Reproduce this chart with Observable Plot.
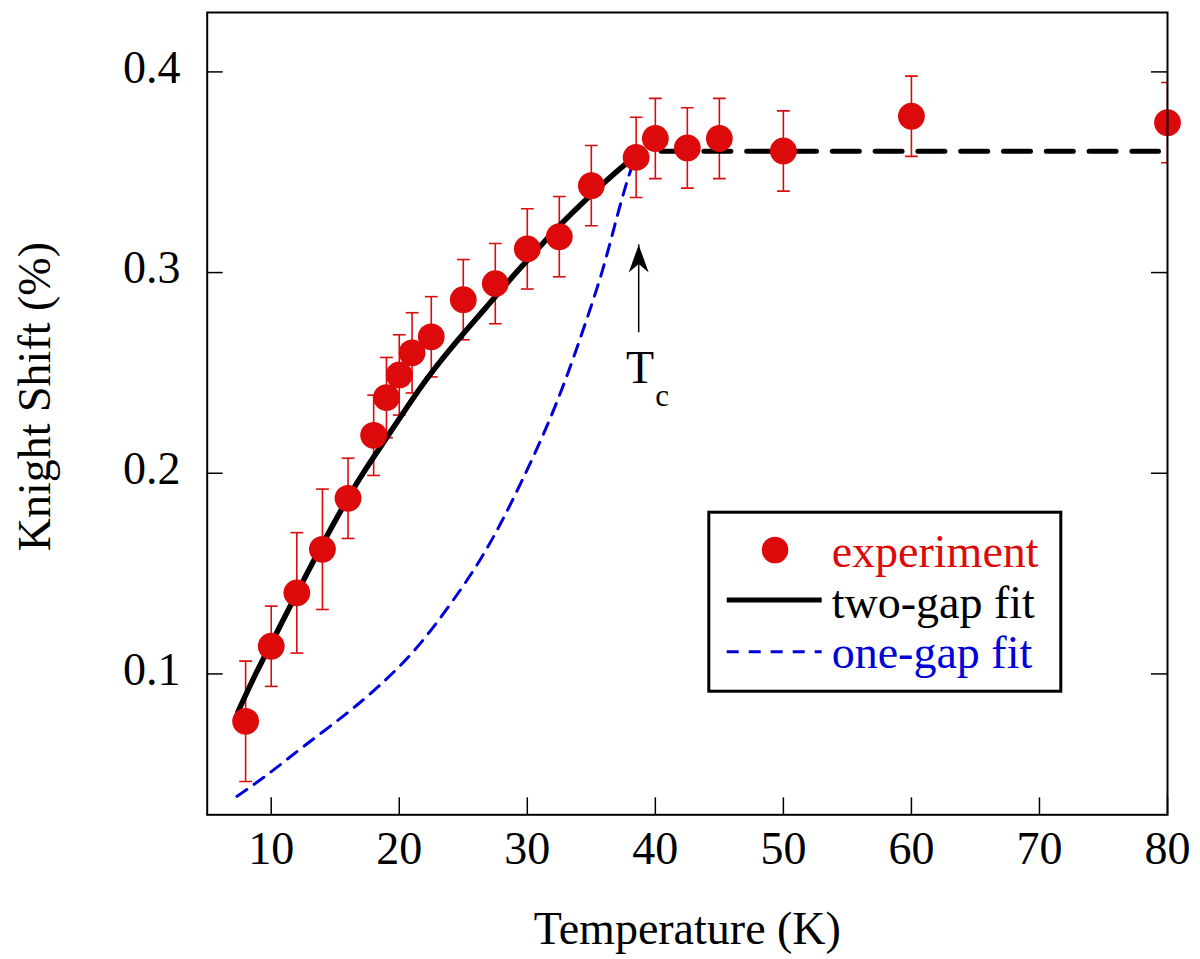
<!DOCTYPE html>
<html>
<head>
<meta charset="utf-8">
<script src="https://cdn.jsdelivr.net/npm/d3@7"></script>
<script src="https://cdn.jsdelivr.net/npm/@observablehq/plot@0.6"></script>
<style>
  html, body { margin: 0; padding: 0; background: #fff; }
  #wrap { position: relative; width: 1200px; height: 959px; }
  #legend { position: absolute; left: 0; top: 0; pointer-events: none; }
</style>
</head>
<body>
<div id="wrap"></div>
<script>
// ---------------- data ----------------
const xTicks = [10, 20, 30, 40, 50, 60, 70, 80];
const yTicks = [0.1, 0.2, 0.3, 0.4];
const xTitle = "Temperature (K)";
const yTitle = "Knight Shift (%)";

// experiment
const expT   = [8, 10, 12, 14, 16, 18, 19, 20, 21, 22.5, 25, 27.5, 30, 32.5, 35, 38.5, 40, 42.5, 45, 50, 60, 80];
const expKS  = [0.0764, 0.1138, 0.1404, 0.1621, 0.1875, 0.2189, 0.2377, 0.249, 0.260, 0.268, 0.2865, 0.2945, 0.3118, 0.3179, 0.3433, 0.3574, 0.3668, 0.3621, 0.3668, 0.3606, 0.3779, 0.3747];
const expErr = [0.03, 0.02, 0.03, 0.03, 0.02, 0.02, 0.02, 0.02, 0.02, 0.02, 0.02, 0.02, 0.02, 0.02, 0.02, 0.02, 0.02, 0.02, 0.02, 0.02, 0.02, 0.02];

// two-gap fit (superconducting state)
const twoGapT  = [7.4, 8.75, 10.4, 13.0, 15.9, 17.3, 19.0, 20.6, 22.4, 24.5, 26.8, 29.1, 30.0, 32.4, 34.9, 37.7, 38.5];
const twoGapKS = [0.081, 0.100, 0.120, 0.153, 0.187, 0.2015, 0.2175, 0.233, 0.2495, 0.266, 0.2827, 0.300, 0.306, 0.323, 0.3385, 0.3545, 0.358];

// normal state (dashed)
const normalT  = [40.45, 79.3];
const normalKS = [0.3605, 0.3605];

// one-gap fit
const oneGapT  = [7.33, 9.67, 12.4, 15.9, 18.5, 21.07, 23.66, 26.0, 27.8, 29.6, 31.4, 33.0, 34.8, 36.0, 37.0, 37.8, 38.4];
const oneGapKS = [0.039, 0.0494, 0.0634, 0.080, 0.0942, 0.110, 0.1315, 0.153, 0.173, 0.1963, 0.221, 0.2462, 0.2794, 0.303, 0.328, 0.346, 0.357];

// Tc annotation
const tcArrow = [{T: 38.7, from: 0.270, to: 0.3138}];
const tcMain  = [{T: 38.8, ks: 0.2525, label: "T"}];
const tcSub   = [{T: 40.0, ks: 0.2383, label: "c"}];

// legend
const legendLabels = ["experiment", "two-gap fit", "one-gap fit"];

// ---------------- build ----------------
const RED = "#dc0a0a", BLUE = "#0000d8";
const FONT = "'Liberation Serif', 'Times New Roman', Times, serif";
const W = 1200, H = 959;
const mL = 206.7, mR = 33, mT = 12, mB = 144.7;
const plotW = W - mL - mR, plotH = H - mT - mB;

const exp = expT.map((T, i) => ({T, ks: expKS[i], err: expErr[i]}));
const twoGap = twoGapT.map((T, i) => ({T, ks: twoGapKS[i]}));
const normal = normalT.map((T, i) => ({T, ks: normalKS[i]}));
const oneGap = oneGapT.map((T, i) => ({T, ks: oneGapKS[i]}));

const capSymbol = {draw(ctx) { ctx.moveTo(-6.4, 0); ctx.lineTo(6.4, 0); }};
const arrowHead = {draw(ctx) {
  ctx.moveTo(0, 0); ctx.lineTo(-10, 27.5); ctx.lineTo(0, 19); ctx.lineTo(10, 27.5); ctx.closePath();
}};

const chart = Plot.plot({
  width: W, height: H,
  marginLeft: mL, marginRight: mR, marginTop: mT, marginBottom: mB,
  x: {domain: [5, 80]},
  y: {domain: [0.0298, 0.4296]},
  style: {fontFamily: FONT, fontSize: "46px", background: "#fff", color: "#000"},
  marks: [
    // axes labels (no outward ticks)
    Plot.axisX(xTicks, {tickSize: 0, tickPadding: 17, fontSize: 46, label: null, tickFormat: d => String(d)}),
    Plot.axisY(yTicks, {tickSize: 0, tickPadding: 26.7, fontSize: 46, label: null, dy: -4, tickFormat: d3.format(".1f")}),
    // inward ticks
    Plot.tickY(yTicks, {y: d => d, stroke: "#000", strokeWidth: 1.5, insetRight: plotW - 16}),
    Plot.tickY(yTicks, {y: d => d, stroke: "#000", strokeWidth: 1.5, insetLeft: plotW - 16}),
    Plot.tickX(xTicks, {x: d => d, stroke: "#000", strokeWidth: 1.5, insetTop: plotH - 17}),
    // error bars
    Plot.ruleX(exp, {x: "T", y1: d => d.ks - d.err, y2: d => d.ks + d.err, stroke: RED, strokeWidth: 1.6, clip: true}),
    Plot.dot(exp, {x: "T", y: d => d.ks + d.err, symbol: capSymbol, stroke: RED, fill: "none", strokeWidth: 1.6, clip: true}),
    Plot.dot(exp, {x: "T", y: d => d.ks - d.err, symbol: capSymbol, stroke: RED, fill: "none", strokeWidth: 1.6, clip: true}),
    // fits
    Plot.line(oneGap, {x: "T", y: "ks", stroke: BLUE, strokeWidth: 3, strokeDasharray: "12,9", curve: "basis"}),
    Plot.line(twoGap, {x: "T", y: "ks", stroke: "#000", strokeWidth: 5.5, curve: "basis"}),
    Plot.line(normal, {x: "T", y: "ks", stroke: "#000", strokeWidth: 5, strokeDasharray: "27,15.8"}),
    // experiment points
    Plot.dot(exp, {x: "T", y: "ks", r: 13.4, fill: RED}),
    // Tc annotation
    Plot.ruleX(tcArrow, {x: "T", y1: "from", y2: "to", stroke: "#000", strokeWidth: 1.5}),
    Plot.dot(tcArrow, {x: "T", y: "to", symbol: arrowHead, fill: "#000", stroke: "none"}),
    Plot.text(tcMain, {x: "T", y: "ks", text: "label", fontSize: 46, fill: "#000"}),
    Plot.text(tcSub, {x: "T", y: "ks", text: "label", fontSize: 31, fill: "#000", textAnchor: "start"}),
    // axis titles
    Plot.text([xTitle], {frameAnchor: "bottom", dy: 114.3, text: d => d, fontSize: 46, lineAnchor: "middle", textAnchor: "middle"}),
    Plot.text([yTitle], {frameAnchor: "left", dx: -171.7, dy: -17, rotate: -90, text: d => d, fontSize: 46, lineAnchor: "middle", textAnchor: "middle"}),
    // frame
    Plot.frame({stroke: "#000", strokeWidth: 2})
  ]
});

const wrap = document.getElementById("wrap");
wrap.appendChild(chart);

// legend overlay
const ns = "http://www.w3.org/2000/svg";
const lg = document.createElementNS(ns, "svg");
lg.setAttribute("id", "legend");
lg.setAttribute("width", W);
lg.setAttribute("height", H);
const sel = d3.select(lg);
sel.append("rect").attr("x", 708.8).attr("y", 512.2).attr("width", 352).attr("height", 179)
  .attr("fill", "none").attr("stroke", "#000").attr("stroke-width", 3);
sel.append("circle").attr("cx", 775).attr("cy", 550).attr("r", 13.3).attr("fill", RED);
sel.append("line").attr("x1", 726.7).attr("x2", 821.7).attr("y1", 600).attr("y2", 600)
  .attr("stroke", "#000").attr("stroke-width", 5);
sel.append("line").attr("x1", 726.7).attr("x2", 821.7).attr("y1", 651.7).attr("y2", 651.7)
  .attr("stroke", BLUE).attr("stroke-width", 3).attr("stroke-dasharray", "12,10");
const lgColors = [RED, "#000", BLUE];
const lgBase = [566.7, 618.3, 668.3];
legendLabels.forEach((t, i) => {
  sel.append("text").attr("x", 831.7).attr("y", lgBase[i]).attr("fill", lgColors[i])
    .attr("font-family", FONT).attr("font-size", 46).text(t);
});
wrap.appendChild(lg);
</script>
</body>
</html>
